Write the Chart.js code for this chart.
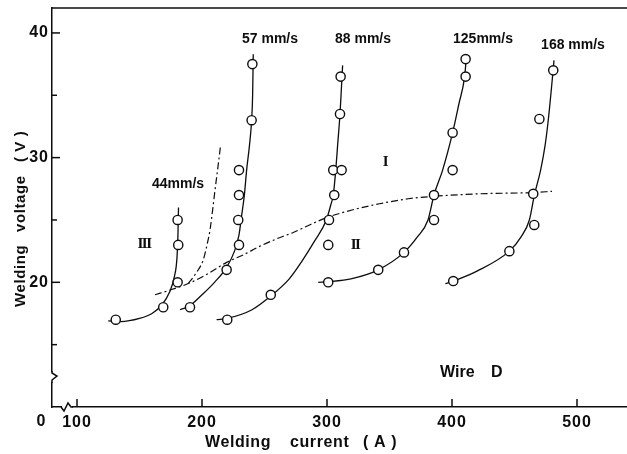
<!DOCTYPE html>
<html>
<head>
<meta charset="utf-8">
<script src="https://cdn.jsdelivr.net/npm/chart.js@4.4.0/dist/chart.umd.min.js"></script>
<style>
  html, body { margin: 0; padding: 0; background: #fff; }
  #wrap { width: 627px; height: 454px; }
</style>
</head>
<body>
<div id="wrap"><canvas id="chart"></canvas></div>
<script>
  // ---- data: [current (A), voltage (V)] ----
  const xTicks = [100, 200, 300, 400, 500];
  const yMajor = [20, 30, 40];
  const yMinor = [15, 25, 35];

  // measured points
  const pts44 = [[131, 17], [169, 18], [180.5, 20], [181, 23], [180.5, 25]];
  const pts57 = [[190.4, 18], [219.7, 21], [229.6, 23], [229, 25], [229.6, 27], [229.6, 29], [239.7, 33], [240.3, 37.5]];
  const pts88 = [[220.2, 17], [255, 19], [301, 23], [301.6, 25], [305.8, 27], [305, 29], [311.7, 29], [310.4, 33.5], [310.9, 36.5]];
  const pts125 = [[301, 20], [341, 21], [361.6, 22.4], [385.6, 25], [385.6, 27], [400.5, 29], [400.5, 32], [410.9, 36.5], [410.9, 37.9]];
  const pts168 = [[401, 20.1], [445.9, 22.5], [465.8, 24.6], [465, 27.1], [469.9, 33.1], [481, 37]];

  // hand-drawn fitted curves
  const curve44 = [[125, 16.9], [135, 16.85], [150, 17.1], [160, 17.5], [168, 18.2], [174, 19.2], [178, 20.5], [180, 22], [180.8, 24], [181.2, 26]];
  const curve57 = [[182.4, 17.8], [190, 18.1], [200, 19], [210, 20], [219.7, 21.2], [226, 22.5], [229.6, 23.8], [231.5, 25.2], [233.9, 27], [235.7, 29], [238, 31], [239.7, 33], [240.5, 35], [241, 38.3]];
  const curve88 = [[211.7, 17], [220, 17.1], [240, 17.8], [255, 18.9], [270, 20.3], [280, 21.7], [290, 23.3], [299.5, 25], [303, 26.2], [305, 27], [307, 29], [308.5, 31], [310.4, 33.5], [311.5, 35.5], [312.5, 37.4]];
  const curve125 = [[293, 20], [301, 20.05], [320, 20.3], [341, 21], [361.6, 22.4], [372, 23.6], [380.8, 25], [385.6, 27], [392.5, 29], [400.5, 32], [405.5, 34.3], [410.1, 36.5], [411.7, 38.3]];
  const curve168 = [[394.7, 19.9], [401, 20.1], [420, 20.9], [445.9, 22.5], [455, 23.6], [461.9, 25], [465.9, 27], [470.9, 29], [474.5, 31], [477, 33], [479.5, 35.5], [481.6, 37.8]];

  // chain-dotted region boundaries
  const boundary1 = [[189, 19.9], [195, 20.7], [201, 21.8], [204, 23], [206.4, 24.2], [208.5, 25.8], [210.4, 27.4], [212.7, 29.2], [214.9, 31]];
  const boundary2 = [[162.4, 19], [175, 19.4], [189, 19.9], [205, 20.7], [219.7, 21.6], [233, 22.2], [246.4, 22.9], [260, 23.5], [273, 24], [286, 24.6], [300, 25.2], [320, 25.8], [342, 26.3], [365, 26.7], [385.8, 26.9], [422, 27.1], [465, 27.2], [480, 27.3]];

  // annotations: [text, current, voltage]
  const speedLabels = [
    ['44mm/s', 180.8, 27.9],
    ['57 mm/s', 254.4, 39.5],
    ['88 mm/s', 328.8, 39.5],
    ['125mm/s', 424.8, 39.5],
    ['168 mm/s', 496.8, 39.0]
  ];
  const zoneLabels = [['III', 153.6, 23.05], ['II', 322.4, 23], ['I', 346.4, 29.6]];

  const INK = '#0d0d0d';
  const SANS = '"Liberation Sans", Arial, sans-serif';

  const toXY = (arr) => arr.map(([x, y]) => ({ x, y }));

  function pointSet(arr) {
    return {
      data: toXY(arr), showLine: false, order: 0,
      pointRadius: 4.6, pointHoverRadius: 4.6, pointStyle: 'circle',
      pointBackgroundColor: '#fff', pointBorderColor: INK, pointBorderWidth: 1.4
    };
  }
  function lineSet(arr, dash) {
    return {
      data: toXY(arr), showLine: true, order: 1,
      borderColor: INK, borderWidth: dash ? 1.2 : 1.3, borderDash: dash || [],
      pointRadius: 0, tension: 0.4, cubicInterpolationMode: 'monotone', fill: false
    };
  }

  // tick labels of the scan are wide: space them out a little while the scales draw
  const spacing = {
    id: 'spacing',
    beforeDraw(chart) { chart.ctx.letterSpacing = '1px'; },
    beforeDatasetsDraw(chart) { chart.ctx.letterSpacing = '0px'; }
  };

  // ---- decorations: frame top, inward ticks, axis breaks, texts ----
  const decor = {
    id: 'decor',
    afterDraw(chart) {
      const { ctx, chartArea: a, scales: { x, y } } = chart;
      const seg = (x1, y1, x2, y2) => { ctx.beginPath(); ctx.moveTo(x1, y1); ctx.lineTo(x2, y2); ctx.stroke(); };
      ctx.save();
      ctx.letterSpacing = '0px';
      ctx.strokeStyle = INK;
      ctx.lineWidth = 1.5;
      seg(a.left, a.top, a.right, a.top);

      xTicks.forEach(v => { const p = x.getPixelForValue(v); seg(p, a.bottom, p, a.bottom - 8); });
      yMajor.forEach(v => { const p = y.getPixelForValue(v); seg(a.left, p, a.left + 8, p); });
      yMinor.forEach(v => { const p = y.getPixelForValue(v); seg(a.left, p, a.left + 5, p); });

      // y axis break
      const yb = a.bottom - 30;
      ctx.fillStyle = '#fff';
      ctx.fillRect(a.left - 2, yb - 5, 4, 10);
      ctx.beginPath();
      ctx.moveTo(a.left, yb - 6);
      ctx.lineTo(a.left, yb - 4);
      ctx.lineTo(a.left + 5, yb - 1);
      ctx.lineTo(a.left, yb + 3);
      ctx.lineTo(a.left, yb + 6);
      ctx.stroke();
      // x axis break
      const xb = a.left + 15;
      ctx.fillRect(xb - 5, a.bottom - 2, 10, 4);
      ctx.beginPath();
      ctx.moveTo(xb - 6, a.bottom);
      ctx.lineTo(xb - 3, a.bottom + 4);
      ctx.lineTo(xb + 1, a.bottom - 4);
      ctx.lineTo(xb + 4, a.bottom);
      ctx.lineTo(xb + 6, a.bottom);
      ctx.stroke();

      ctx.fillStyle = INK;
      // broken-axis zero
      ctx.font = 'bold 16px ' + SANS;
      ctx.textAlign = 'center';
      ctx.textBaseline = 'middle';
      ctx.fillText('0', a.left - 11, a.bottom + 15);

      // speed labels
      ctx.font = 'bold 14px ' + SANS;
      speedLabels.forEach(([t, vx, vy]) => ctx.fillText(t, x.getPixelForValue(vx), y.getPixelForValue(vy)));

      ctx.textAlign = 'left';
      ctx.textBaseline = 'alphabetic';
      ctx.font = 'bold 16px ' + SANS;
      ctx.fillText('Wire', 440, 377);
      ctx.fillText('D', 491, 377);

      // zone numerals
      ctx.textAlign = 'center';
      ctx.textBaseline = 'middle';
      ctx.font = 'bold 15px "Liberation Serif", serif';
      ctx.letterSpacing = '-1.5px';
      zoneLabels.forEach(([t, vx, vy]) => ctx.fillText(t, x.getPixelForValue(vx), y.getPixelForValue(vy)));

      // axis titles
      ctx.letterSpacing = '0.6px';
      ctx.font = 'bold 16px ' + SANS;
      ctx.textAlign = 'left';
      ctx.textBaseline = 'alphabetic';
      [['Welding', 205], ['current', 290], ['( A )', 363]].forEach(([t, px]) => ctx.fillText(t, px, 447));
      ctx.translate(25, 0);
      ctx.rotate(-Math.PI / 2);
      ctx.font = 'bold 15px ' + SANS;
      [['Welding', 307], ['voltage', 232], ['( V )', 162]].forEach(([t, py]) => ctx.fillText(t, -py, 0));
      ctx.restore();
    }
  };

  new Chart(document.getElementById('chart'), {
    type: 'scatter',
    data: {
      datasets: [
        pointSet(pts44), pointSet(pts57), pointSet(pts88), pointSet(pts125), pointSet(pts168),
        lineSet(curve44), lineSet(curve57), lineSet(curve88), lineSet(curve125), lineSet(curve168),
        lineSet(boundary1, [7, 3, 2, 3]), lineSet(boundary2, [7, 3, 2, 3])
      ]
    },
    options: {
      responsive: true,
      maintainAspectRatio: false,
      animation: false,
      layout: { autoPadding: false, padding: { top: 8, right: 0, left: 0, bottom: 0 } },
      plugins: { legend: { display: false }, tooltip: { enabled: false } },
      scales: {
        x: {
          type: 'linear', min: 80, max: 540,
          grid: { display: false, drawTicks: true, tickLength: 6 },
          border: { display: true, color: INK, width: 1.5 },
          ticks: {
            autoSkip: false, stepSize: 20, padding: 0, color: INK,
            maxRotation: 0, minRotation: 0,
            font: { family: SANS, size: 16, weight: 'bold' },
            callback: (v) => xTicks.includes(v) ? String(v) : ''
          },
          afterFit: (s) => { s.height = 47; s.paddingLeft = 0; s.paddingRight = 0; }
        },
        y: {
          type: 'linear', min: 10, max: 42,
          grid: { display: false, drawTicks: false },
          border: { display: true, color: INK, width: 1.5 },
          ticks: {
            autoSkip: false, stepSize: 5, padding: 3, color: INK,
            font: { family: SANS, size: 16, weight: 'bold' },
            callback: (v) => yMajor.includes(v) ? String(v) : ''
          },
          afterFit: (s) => { s.width = 52; s.paddingTop = 0; s.paddingBottom = 0; }
        }
      }
    },
    plugins: [spacing, decor]
  });
</script>
</body>
</html>
